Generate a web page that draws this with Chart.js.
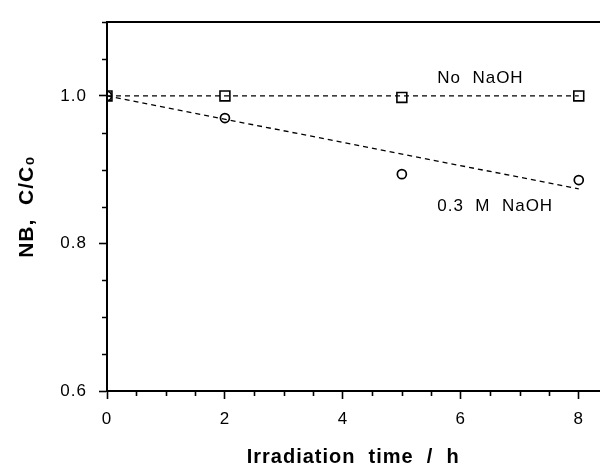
<!DOCTYPE html>
<html>
<head>
<meta charset="utf-8">
<script src="https://cdn.jsdelivr.net/npm/chart.js@4"></script>
<style>
  html, body { margin: 0; padding: 0; background: #fff; }
  #wrap { width: 608px; height: 469px; }
</style>
</head>
<body>
<div id="wrap"><canvas id="c" width="608" height="469"></canvas></div>
<script>
// ---- data ----
const timeNoNaOH = [0, 2, 5, 8];
const valNoNaOH = [1.0, 1.0, 0.998, 1.0];
const timeNaOH = [0, 2, 5, 8];
const valNaOH = [1.0, 0.970, 0.894, 0.886];
// dashed trend lines (end points)
const fitTime = [0, 8];
const fitNoNaOH = [1.0, 1.0];
const fitNaOH = [1.0, 0.874];
// tick labels
const xTickValues = [0, 2, 4, 6, 8];
const xTickLabels = ['0', '2', '4', '6', '8'];
const yTickValues = [0.6, 0.8, 1.0];
const yTickLabels = ['0.6', '0.8', '1.0'];
// in-plot labels
const noteTexts = ['No  NaOH', '0.3  M  NaOH'];
const noteX = [5.6, 5.6];
const noteY = [1.024, 0.851];

const FONT = "'Liberation Sans', Arial, Helvetica, sans-serif";

function pts(xs, ys) { return xs.map((x, i) => ({ x: x, y: ys[i] })); }
function findLabel(v, vals, labels) {
  for (let i = 0; i < vals.length; i++) if (Math.abs(v - vals[i]) < 1e-6) return labels[i];
  return '';
}

const minorTicks = {
  id: 'minorTicks',
  beforeDraw(chart) { chart.ctx.letterSpacing = '1px'; },
  afterDraw(chart) {
    const ctx = chart.ctx;
    ctx.save();
    ctx.strokeStyle = '#000';
    ctx.lineWidth = 1.6;
    const xs = chart.scales.x, ys = chart.scales.y;
    ctx.beginPath();
    xs.ticks.forEach(t => {
      if (findLabel(t.value, xTickValues, xTickLabels) === '') {
        const px = Math.round(xs.getPixelForValue(t.value)) + 0.5;
        ctx.moveTo(px, xs.top); ctx.lineTo(px, xs.top + 5);
      }
    });
    ys.ticks.forEach(t => {
      if (findLabel(t.value, yTickValues, yTickLabels) === '') {
        const py = Math.round(ys.getPixelForValue(t.value)) + 0.5;
        ctx.moveTo(ys.right, py); ctx.lineTo(ys.right - 5, py);
      }
    });
    ctx.stroke();
    ctx.restore();
  },
  afterDatasetsDraw(chart) {
    const ctx = chart.ctx;
    const xs = chart.scales.x, ys = chart.scales.y;
    ctx.save();
    ctx.fillStyle = '#000';
    ctx.font = '17px ' + FONT;
    ctx.textBaseline = 'middle';
    ctx.textAlign = 'left';
    noteTexts.forEach((t, i) => {
      ctx.fillText(t, xs.getPixelForValue(noteX[i]), ys.getPixelForValue(noteY[i]));
    });
    ctx.restore();
  }
};

new Chart(document.getElementById('c'), {
  type: 'scatter',
  data: {
    datasets: [
      { label: 'fit no NaOH', data: pts(fitTime, fitNoNaOH), showLine: true, borderColor: '#000', borderWidth: 1.3, borderDash: [5, 4], pointRadius: 0, fill: false },
      { label: 'fit NaOH', data: pts(fitTime, fitNaOH), showLine: true, borderColor: '#000', borderWidth: 1.3, borderDash: [5, 4], pointRadius: 0, fill: false },
      { label: 'No NaOH', data: pts(timeNoNaOH, valNoNaOH), showLine: false, pointStyle: 'rect', pointRadius: 7, borderColor: '#000', borderWidth: 1.6, backgroundColor: 'rgba(0,0,0,0)' },
      { label: '0.3 M NaOH', data: pts(timeNaOH, valNaOH), showLine: false, pointStyle: 'circle', pointRadius: 4.5, borderColor: '#000', borderWidth: 1.7, backgroundColor: 'rgba(0,0,0,0)' }
    ]
  },
  options: {
    responsive: false,
    animation: false,
    layout: { padding: 0 },
    plugins: { legend: { display: false }, tooltip: { enabled: false } },
    scales: {
      x: {
        type: 'linear', position: 'bottom', min: 0, max: 8.35,
        afterFit(s) { s.height = 78; },
        border: { display: true, color: '#000', width: 2 },
        grid: { drawOnChartArea: false, drawTicks: true, tickLength: 8, tickWidth: 1.6,
                tickColor: c => findLabel(c.tick ? c.tick.value : NaN, xTickValues, xTickLabels) === '' ? 'rgba(0,0,0,0)' : '#000' },
        ticks: { stepSize: 0.5, includeBounds: false, autoSkip: false, maxRotation: 0, padding: 10, color: '#000',
                 font: { family: FONT, size: 17 },
                 callback: v => findLabel(v, xTickValues, xTickLabels) },
        title: { display: true, text: 'Irradiation  time  /  h', color: '#000', font: { family: FONT, size: 20, weight: 'bold' }, padding: { top: 0, bottom: 0 } }
      },
      x2: {
        type: 'linear', position: 'top', min: 0, max: 8.35,
        afterFit(s) { s.height = 15; },
        border: { display: true, color: '#000', width: 2 },
        grid: { display: true, drawOnChartArea: false, drawTicks: false },
        ticks: { display: false }
      },
      y: {
        type: 'linear', position: 'left', min: 0.6, max: 1.1,
        afterFit(s) { s.width = 107; },
        border: { display: true, color: '#000', width: 2 },
        grid: { drawOnChartArea: false, drawTicks: true, tickLength: 8, tickWidth: 1.6,
                tickColor: c => findLabel(c.tick ? c.tick.value : NaN, yTickValues, yTickLabels) === '' ? 'rgba(0,0,0,0)' : '#000' },
        ticks: { stepSize: 0.05, includeBounds: false, autoSkip: false, padding: 12, color: '#000',
                 font: { family: FONT, size: 17 },
                 callback: v => findLabel(v, yTickValues, yTickLabels) },
        title: { display: true, text: 'NB,  C/C₀', color: '#000', font: { family: FONT, size: 21, weight: 'bold' }, padding: { top: 15, bottom: 0 } }
      }
    }
  },
  plugins: [minorTicks]
});
</script>
</body>
</html>
